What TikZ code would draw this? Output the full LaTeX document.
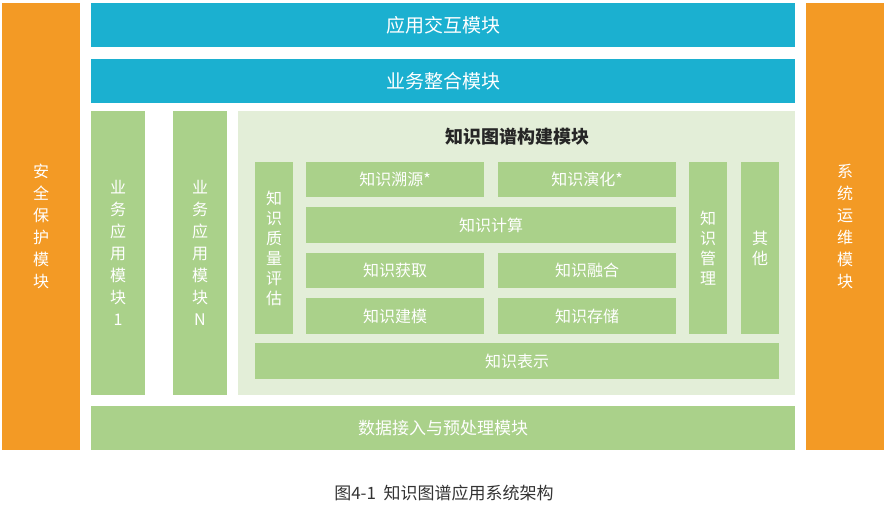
\documentclass[tikz,border=0pt]{standalone}
\usepackage{fontspec}
\setmainfont{Noto Sans CJK SC}
\begin{document}
\begin{tikzpicture}[x=1pt,y=-1pt,
  box/.style={anchor=north west,inner sep=0pt,outer sep=0pt,text=white,align=center,font=\fontsize{16}{20}\selectfont},
  vt/.style={text=white,align=center,font=\fontsize{16}{22}\selectfont}]
\definecolor{og}{HTML}{F39A25}\definecolor{bl}{HTML}{1BB0D0}\definecolor{gr}{HTML}{AAD18A}\definecolor{pg}{HTML}{E3EED8}
\useasboundingbox (0,0) rectangle (888,532);
\node[box,fill=og,minimum width=78pt,minimum height=447pt] (L) at (2,3) {};
\node[vt] at (L.center) {安\\全\\保\\护\\模\\块};
\node[box,fill=og,minimum width=78pt,minimum height=447pt] (R) at (806,3) {};
\node[vt] at (R.center) {系\\统\\运\\维\\模\\块};
\node[box,fill=bl,minimum width=704pt,minimum height=44pt,font=\fontsize{19}{22}\selectfont] (t1) at (91,3) {应用交互模块};
\node[box,fill=bl,minimum width=704pt,minimum height=44pt,font=\fontsize{19}{22}\selectfont] (t2) at (91,59) {业务整合模块};
\node[box,fill=gr,minimum width=54pt,minimum height=284pt] (b1) at (91,111) {};
\node[vt] at (b1.center) {业\\务\\应\\用\\模\\块\\1};
\node[box,fill=gr,minimum width=54pt,minimum height=284pt] (bN) at (173,111) {};
\node[vt] at (bN.center) {业\\务\\应\\用\\模\\块\\N};
\node[box,fill=pg,minimum width=557pt,minimum height=284pt] (P) at (238,111) {};
\node[font=\bfseries\fontsize{18}{22}\selectfont,text=black!85] (pt) at (517,137) {知识图谱构建模块};
\node[box,fill=gr,minimum width=38pt,minimum height=172pt] (q) at (255,162) {};
\node[vt,font=\fontsize{16}{20}\selectfont] at (q.center) {知\\识\\质\\量\\评\\估};
\node[box,fill=gr,minimum width=178pt,minimum height=35pt] (s1) at (306,162) {知识溯源*};
\node[box,fill=gr,minimum width=178pt,minimum height=35pt] (s2) at (498,162) {知识演化*};
\node[box,fill=gr,minimum width=370pt,minimum height=36pt] (s3) at (306,207) {知识计算};
\node[box,fill=gr,minimum width=178pt,minimum height=35pt] (s4) at (306,253) {知识获取};
\node[box,fill=gr,minimum width=178pt,minimum height=35pt] (s5) at (498,253) {知识融合};
\node[box,fill=gr,minimum width=178pt,minimum height=36pt] (s6) at (306,298) {知识建模};
\node[box,fill=gr,minimum width=178pt,minimum height=36pt] (s7) at (498,298) {知识存储};
\node[box,fill=gr,minimum width=38pt,minimum height=172pt] (m) at (689,162) {};
\node[vt,font=\fontsize{16}{20}\selectfont] at (m.center) {知\\识\\管\\理};
\node[box,fill=gr,minimum width=38pt,minimum height=172pt] (o) at (741,162) {};
\node[vt,font=\fontsize{16}{20}\selectfont] at (o.center) {其\\他};
\node[box,fill=gr,minimum width=524pt,minimum height=36pt] (rep) at (255,343) {知识表示};
\node[box,fill=gr,minimum width=704pt,minimum height=44pt,font=\fontsize{17}{20}\selectfont] (d) at (91,406) {数据接入与预处理模块};
\node[font=\fontsize{17}{20}\selectfont,text=black!80] (cap) at (444,493) {图4-1\ \ 知识图谱应用系统架构};
\end{tikzpicture}
\end{document}
